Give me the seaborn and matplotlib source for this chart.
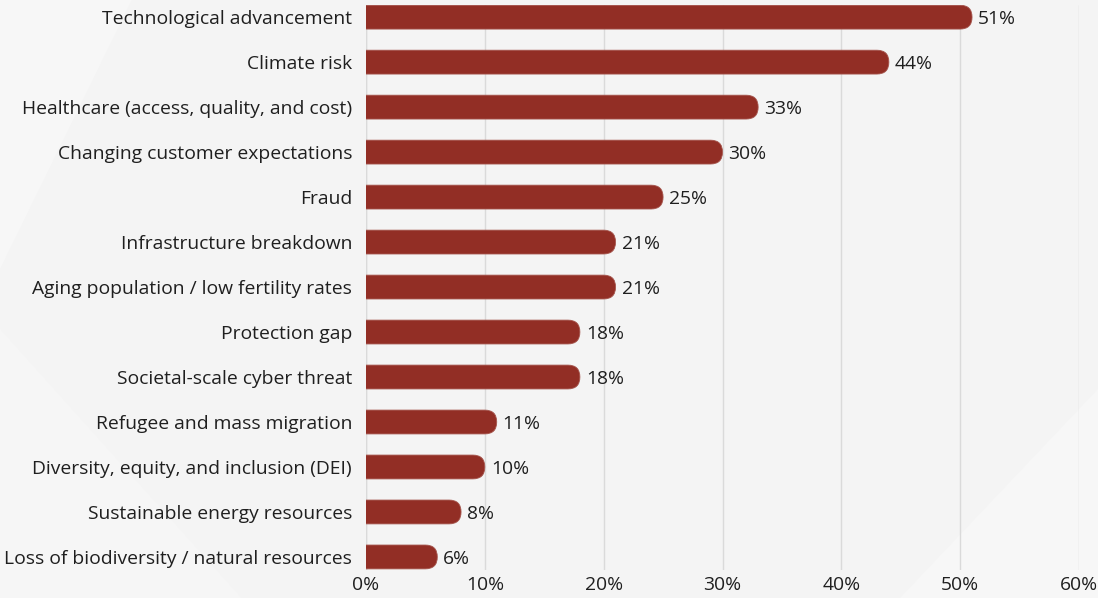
import matplotlib
matplotlib.use("Agg")
import matplotlib.pyplot as plt
from matplotlib.patches import FancyBboxPatch, Polygon
import seaborn as sns
import pandas as pd

categories = [
    "Technological advancement",
    "Climate risk",
    "Healthcare (access, quality, and cost)",
    "Changing customer expectations",
    "Fraud",
    "Infrastructure breakdown",
    "Aging population / low fertility rates",
    "Protection gap",
    "Societal-scale cyber threat",
    "Refugee and mass migration",
    "Diversity, equity, and inclusion (DEI)",
    "Sustainable energy resources",
    "Loss of biodiversity / natural resources",
]
values = [51, 44, 33, 30, 25, 21, 21, 18, 18, 11, 10, 8, 6]
x_ticks = [0, 10, 20, 30, 40, 50, 60]

BAR = "#922e25"
BG = "#f4f4f4"
TEXT = "#1f1f1f"
GRID = "#dadada"
FS = 13.9

sns.set_theme(style="white")
plt.rcParams["font.family"] = ["Open Sans", "DejaVu Sans"]

W, H = 1098, 598
fig = plt.figure(figsize=(W / 100, H / 100), dpi=100, facecolor=BG)

# faint diagonal background panels
bg = fig.add_axes([0, 0, 1, 1], zorder=-10)
bg.set_xlim(0, 1); bg.set_ylim(0, 1); bg.axis("off")
bg.add_patch(Polygon([[0, 0.55], [0.12, 1.0], [0.0, 1.0]], color="#f7f7f7", lw=0))
bg.add_patch(Polygon([[0, 0.0], [0.22, 0.0], [0.0, 0.45]], color="#f6f6f6", lw=0))
bg.add_patch(Polygon([[0.82, 0.0], [1.0, 0.0], [1.0, 0.35]], color="#f7f7f7", lw=0))

left, right = 366 / W, 1079 / W
top, bottom = 1 - 5 / H, 1 - 570 / H
ax = fig.add_axes([left, bottom, right - left, top - bottom])
ax.set_facecolor("none")

df = pd.DataFrame({"category": categories, "value": values})
sns.barplot(data=df, y="category", x="value", orient="h", color=BAR,
            width=0.53, saturation=1, ax=ax, zorder=3)

ax.set_xlim(0, 60)
ax.set_ylim(12.29, -0.27)

# convert seaborn's rectangles into bars with a rounded right end
fig.canvas.draw()
ax_w_px = ax.get_window_extent().width
ax_h_px = ax.get_window_extent().height
x_per_px = 60 / ax_w_px
y_per_px = (12.29 + 0.27) / ax_h_px
rects = list(ax.patches)
for p in rects:
    x0, y0 = p.get_x(), p.get_y()
    w, h = p.get_width(), p.get_height()
    r_y = h / 2
    r_x = (r_y / y_per_px) * x_per_px
    p.remove()
    fb = FancyBboxPatch((x0 - 2 * r_x, y0), w + 2 * r_x, h,
                        boxstyle=f"round,pad=0,rounding_size={r_x}",
                        mutation_aspect=r_y / r_x,
                        facecolor=BAR, edgecolor="#a5554d", lw=0.6,
                        zorder=3, clip_on=True)
    ax.add_patch(fb)
    ax.text(x0 + w + 6 * x_per_px, y0 + h / 2, f"{int(round(w))}%",
            va="center_baseline", ha="left", fontsize=FS, color=TEXT, zorder=4)

ax.set_xticks(x_ticks)
ax.set_xticklabels([f"{t}%" for t in x_ticks])
ax.xaxis.grid(True, color=GRID, lw=1)
ax.set_axisbelow(True)
for s in ax.spines.values():
    s.set_visible(False)
ax.axvline(0, color=GRID, lw=1, zorder=1)
ax.set_xlabel("")
ax.set_ylabel("")
ax.tick_params(axis="x", length=0, pad=4, labelsize=FS, labelcolor=TEXT)
ax.tick_params(axis="y", length=0, pad=10, labelsize=FS, labelcolor=TEXT)
for lbl in ax.get_yticklabels():
    lbl.set_va("center_baseline")

fig.savefig("out.png", dpi=100, facecolor=BG)
